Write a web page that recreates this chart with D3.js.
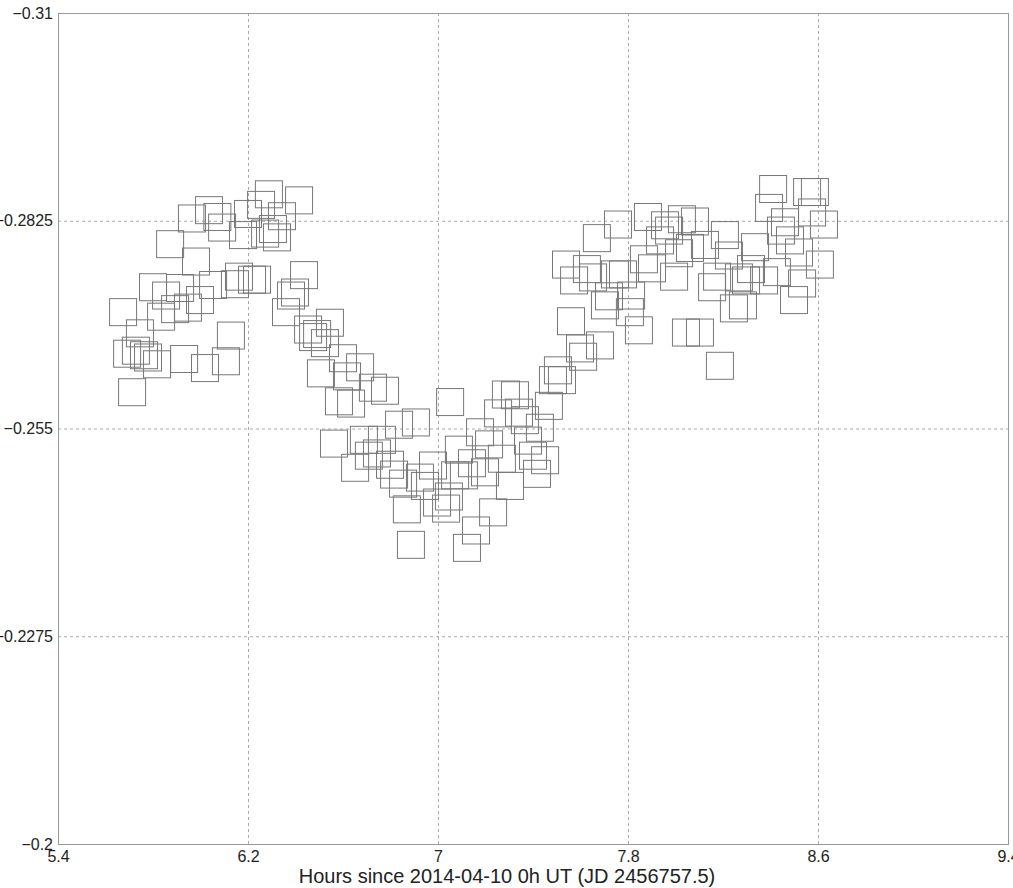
<!DOCTYPE html>
<html lang="en">

<head>
    <meta charset="UTF-8">
    <title>Light curve</title>
    <style>
        body {
            margin: 0;
            background: #fff;
        }

        text {
            font-family: Arial, "Liberation Sans", sans-serif;
            fill: #222;
        }

        .grid line {
            stroke: #aaa;
            stroke-dasharray: 3, 3;
        }

        .pt {
            fill: none;
            stroke: #777;
            stroke-width: 1;
        }
    </style>
</head>

<body>
    <svg id="chart"></svg>
    <script src="https://cdnjs.cloudflare.com/ajax/libs/d3/7.9.0/d3.min.js"></script>
    <script>
        // hours since 2014-04-10 0h UT
        const hours = [
            6.288, 6.415, 6.036, 5.964, 6.091, 6.200, 6.255, 6.343, 6.179, 6.272, 6.305, 6.322,
            5.872, 5.981, 5.800, 5.914, 5.855, 6.053, 5.998, 5.947, 5.893, 5.834, 6.162, 6.145,
            6.217, 6.238, 5.674, 5.745, 5.728, 5.691, 5.762, 5.779, 5.817, 5.931, 6.019, 6.128,
            6.107, 5.712, 6.436, 6.381, 6.360, 6.398, 6.453, 6.491, 6.545, 6.507, 6.474, 6.071,
            6.524, 6.600, 6.672, 6.617, 6.726, 6.777, 6.583, 6.634, 7.051, 6.836, 6.907, 6.562,
            6.688, 6.764, 6.651, 6.709, 6.743, 6.798, 6.815, 6.853, 6.924, 6.945, 6.979, 6.996,
            7.034, 7.046, 7.072, 6.869, 6.886, 7.088, 7.143, 7.109, 7.177, 7.198, 7.215, 7.269,
            7.253, 7.286, 7.324, 7.341, 7.366, 7.379, 7.429, 7.400, 7.451, 7.417, 7.303, 7.232,
            7.160, 7.122, 7.467, 7.484, 7.505, 7.522, 7.560, 7.598,
            8.411, 8.554, 8.587, 8.575, 8.394, 8.461, 8.444, 8.482, 8.625, 8.520, 8.608, 8.533,
            8.499, 8.427, 8.335, 8.318, 8.373, 8.208, 8.225, 8.124, 8.175, 8.154, 8.267, 8.297,
            8.246, 8.284, 8.027, 8.082, 7.956, 7.884, 7.935, 7.973, 8.015, 8.061, 7.867, 7.901,
            7.994, 7.758, 7.669, 7.539, 7.627, 7.573, 7.653, 7.745, 7.779, 7.720, 7.703, 7.813,
            7.808, 7.846, 7.682, 7.611, 8.044, 8.103, 8.187
        ];

        // relative magnitude
        const mags = [
            -0.2860, -0.2852, -0.2839, -0.2828, -0.2816, -0.2834, -0.2846, -0.2831, -0.2806, -0.2808, -0.2814, -0.2803,
            -0.2794, -0.2771, -0.2737, -0.2736, -0.2726, -0.2740, -0.2720, -0.2710, -0.2708, -0.2698, -0.2751, -0.2741,
            -0.2747, -0.2747, -0.2704, -0.2676, -0.2653, -0.2649, -0.2647, -0.2644, -0.2635, -0.2642, -0.2630, -0.2673,
            -0.2639, -0.2598, -0.2753, -0.2726, -0.2704, -0.2730, -0.2681, -0.2675, -0.2690, -0.2623, -0.2671, -0.2830,
            -0.2663, -0.2643, -0.2631, -0.2619, -0.2604, -0.2600, -0.2586, -0.2583, -0.2585, -0.2555, -0.2558, -0.2530,
            -0.2535, -0.2535, -0.2498, -0.2514, -0.2517, -0.2502, -0.2489, -0.2477, -0.2485, -0.2474, -0.2501, -0.2452,
            -0.2444, -0.2460, -0.2488, -0.2443, -0.2396, -0.2522, -0.2504, -0.2488, -0.2545, -0.2492, -0.2529, -0.2510,
            -0.2570, -0.2595, -0.2594, -0.2571, -0.2561, -0.2534, -0.2551, -0.2514, -0.2508, -0.2490, -0.2474, -0.2439,
            -0.2415, -0.2392, -0.2580, -0.2614, -0.2627, -0.2614, -0.2692, -0.2656,
            -0.2867, -0.2863, -0.2863, -0.2836, -0.2842, -0.2823, -0.2812, -0.2799, -0.2820, -0.2783, -0.2767, -0.2742,
            -0.2720, -0.2757, -0.2790, -0.2761, -0.2746, -0.2806, -0.2779, -0.2793, -0.2751, -0.2737, -0.2750, -0.2746,
            -0.2709, -0.2713, -0.2827, -0.2824, -0.2819, -0.2830, -0.2799, -0.2812, -0.2782, -0.2789, -0.2774, -0.2762,
            -0.2751, -0.2820, -0.2802, -0.2767, -0.2761, -0.2746, -0.2750, -0.2754, -0.2754, -0.2725, -0.2713, -0.2726,
            -0.2704, -0.2680, -0.2660, -0.2645, -0.2677, -0.2677, -0.2633
        ];

        const xTicks = [5.4, 6.2, 7, 7.8, 8.6, 9.4];
        const yTicks = [-0.31, -0.2825, -0.255, -0.2275, -0.2];
        const xTitle = "Hours since 2014-04-10 0h UT (JD 2456757.5)";

        const w = 1013;
        const h = 888;
        const margin = { top: 13, right: 5, bottom: 44, left: 58 };
        const boxSize = 27;

        const svg = d3.select("#chart")
            .attr("width", w)
            .attr("height", h);

        const xScale = d3.scaleLinear()
            .domain([5.4, 9.4])
            .range([margin.left, w - margin.right]);

        const yScale = d3.scaleLinear()
            .domain([-0.31, -0.2])
            .range([margin.top, h - margin.bottom]);

        // dashed grid
        svg.append("g")
            .attr("class", "grid")
            .selectAll("line")
            .data(xTicks.slice(1, -1))
            .enter()
            .append("line")
            .attr("x1", d => xScale(d) + 0.5)
            .attr("x2", d => xScale(d) + 0.5)
            .attr("y1", yScale(-0.31))
            .attr("y2", yScale(-0.2));

        svg.append("g")
            .attr("class", "grid")
            .selectAll("line")
            .data(yTicks.slice(1, -1))
            .enter()
            .append("line")
            .attr("x1", xScale(5.4))
            .attr("x2", xScale(9.4))
            .attr("y1", d => yScale(d) + 0.5)
            .attr("y2", d => yScale(d) + 0.5);

        // plot frame
        svg.append("rect")
            .attr("x", xScale(5.4) + 0.5)
            .attr("y", yScale(-0.31) + 0.5)
            .attr("width", xScale(9.4) - xScale(5.4))
            .attr("height", yScale(-0.2) - yScale(-0.31))
            .attr("fill", "none")
            .attr("stroke", "#999");

        // axes (labels only, frame drawn above)
        const xAxis = d3.axisBottom(xScale)
            .tickValues(xTicks)
            .tickFormat(d3.format("~g"))
            .tickSize(0)
            .tickPadding(7);

        const yAxis = d3.axisLeft(yScale)
            .tickValues(yTicks)
            .tickFormat(d3.format("~g"))
            .tickSize(0)
            .tickPadding(5);

        const gx = svg.append("g")
            .attr("transform", "translate(0," + yScale(-0.2) + ")")
            .call(xAxis);

        const gy = svg.append("g")
            .attr("transform", "translate(" + xScale(5.4) + ",0)")
            .call(yAxis);

        [gx, gy].forEach(g => {
            g.select(".domain").remove();
            g.selectAll("text")
                .style("font-size", "16px")
                .attr("fill", "#222");
        });

        svg.append("text")
            .attr("x", 507)
            .attr("y", 883)
            .attr("text-anchor", "middle")
            .style("font-size", "20px")
            .text(xTitle);

        // data squares
        svg.append("g")
            .selectAll(".pt")
            .data(hours.map((d, i) => ({ x: d, y: mags[i] })))
            .enter()
            .append("rect")
            .attr("class", "pt")
            .attr("x", d => xScale(d.x) - boxSize / 2)
            .attr("y", d => yScale(d.y) - boxSize / 2)
            .attr("width", boxSize)
            .attr("height", boxSize);
    </script>
</body>

</html>
